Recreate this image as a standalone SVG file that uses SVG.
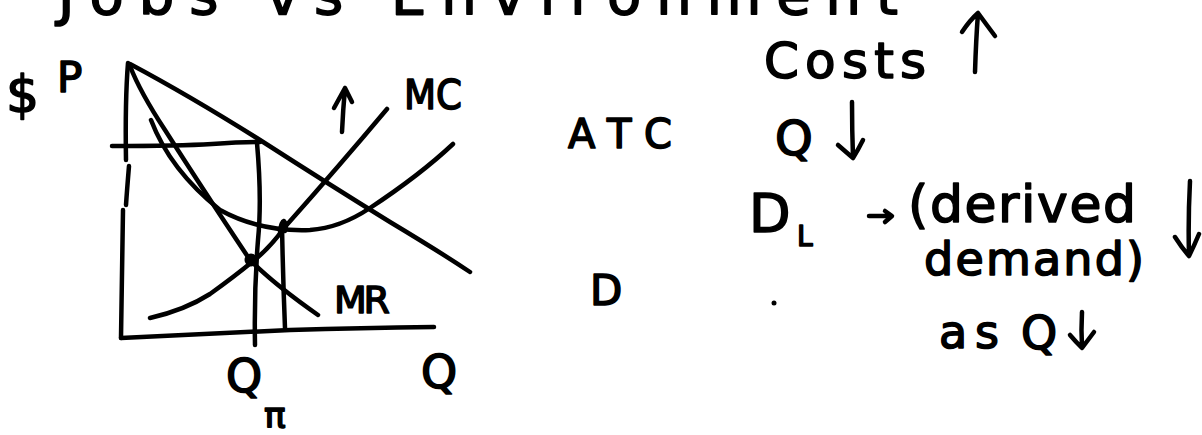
<svg xmlns="http://www.w3.org/2000/svg" width="1202" height="435" viewBox="0 0 1202 435">
  <style>
    .ink { fill: none; stroke: #000; stroke-width: 4.5; stroke-linecap: round; stroke-linejoin: round; }
    .hand { font-family: "DejaVu Sans", "Liberation Sans", sans-serif; fill: #000; stroke: #000; stroke-width: 1.6; stroke-linejoin: round; }
  </style>
  <rect width="1202" height="435" fill="#fff"/>

  <!-- heading, running off the top edge -->
  <text class="hand" x="58" y="14" font-size="56" textLength="840" lengthAdjust="spacing">Jobs vs Environment</text>

  <!-- axes and curves -->
  <g id="connectors">
    <!-- vertical price axis, with small gaps in the stroke -->
    <path class="ink" d="M128,63 Q125,100 126,160"/>
    <path class="ink" d="M129,166 Q127,190 126,205"/>
    <path class="ink" d="M123,210 Q122,270 121,338"/>
    <!-- quantity axis -->
    <path class="ink" d="M121,338 Q200,334 290,330 Q360,328 434,327"/>
    <!-- demand -->
    <path class="ink" d="M130,64 Q190,96 260,140 Q330,185 390,222 Q440,252 470,272"/>
    <!-- marginal revenue -->
    <path class="ink" d="M130,66 Q140,92 165,130 Q200,185 250,260 Q275,285 318,315"/>
    <!-- average total cost -->
    <path class="ink" d="M151,120 Q170,170 220,210 Q260,232 310,230 Q340,228 370,208 Q420,175 453,144"/>
    <!-- marginal cost -->
    <path class="ink" d="M150,318 Q185,310 210,294 Q235,276 252,262 Q270,248 284,228 Q340,165 387,109"/>
    <!-- shift arrow above MC -->
    <path class="ink" d="M342,132 Q343,110 345,88 M334,108 L345,88 L352,102"/>
    <!-- price level and quantity drop lines -->
    <path class="ink" d="M112,146 Q180,146 212,144 Q240,142 260,142"/>
    <path class="ink" d="M257,143 Q262,200 258,240 Q254,290 255,345"/>
    <path class="ink" d="M282,226 Q283,280 285,328"/>
  </g>

  <!-- points on the curves -->
  <g id="equilibrium">
    <circle cx="251" cy="260" r="6.5" fill="#000"/>
  </g>
  <g id="atc-min">
    <path class="ink" d="M280,232 Q281,222 284,221 Q287,224 285,231"/>
  </g>

  <!-- axis and curve labels -->
  <g id="label-price">
    <text class="hand" x="6" y="112" font-size="52">$</text>
    <text class="hand" x="57" y="92" font-size="42">P</text>
  </g>
  <g id="label-mc"><text class="hand" x="404" y="109" font-size="40" textLength="58" lengthAdjust="spacingAndGlyphs">MC</text></g>
  <g id="label-atc"><text class="hand" x="568" y="148" font-size="40" textLength="104" lengthAdjust="spacing">ATC</text></g>
  <g id="label-d"><text class="hand" x="590" y="305" font-size="42">D</text></g>
  <g id="label-mr"><text class="hand" x="334" y="313" font-size="38" textLength="56" lengthAdjust="spacing">MR</text></g>
  <g id="label-q"><text class="hand" x="421" y="388" font-size="46">Q</text></g>
  <g id="label-qpi">
    <text class="hand" x="226" y="392" font-size="46">Q</text>
    <text class="hand" x="264" y="428" font-size="36">π</text>
  </g>

  <!-- notes to the right -->
  <g id="note-costs">
    <text class="hand" x="764" y="78" font-size="50" textLength="162" lengthAdjust="spacing">Costs</text>
    <path class="ink" d="M975,72 Q976,40 978,13 M962,32 Q970,20 978,13 Q986,24 995,36"/>
  </g>
  <g id="note-q">
    <text class="hand" x="775" y="155" font-size="48">Q</text>
    <path class="ink" d="M852,102 Q852,130 853,157 M838,145 Q846,152 853,158 Q858,150 863,140"/>
  </g>
  <g id="note-dl">
    <text class="hand" x="749" y="232" font-size="54">D</text>
    <text class="hand" x="797" y="246" font-size="28">L</text>
    <path class="ink" d="M869,216 L891,216 M885,211 L892,216 L885,222"/>
  </g>
  <g id="note-derived">
    <text class="hand" x="908" y="222" font-size="52" textLength="228" lengthAdjust="spacing">(derived</text>
    <text class="hand" x="924" y="275" font-size="46" textLength="220" lengthAdjust="spacing">demand)</text>
    <path class="ink" d="M1190,181 Q1188,220 1189,255 M1175,237 Q1182,248 1189,256 Q1194,246 1199,234"/>
  </g>
  <g id="note-dot"><circle cx="774" cy="303" r="2.5" fill="#000"/></g>
  <g id="note-as">
    <text class="hand" x="939" y="348" font-size="46" textLength="60" lengthAdjust="spacing">as</text>
    <text class="hand" x="1021" y="349" font-size="46">Q</text>
    <path class="ink" d="M1082,312 Q1081,330 1082,347 M1070,335 Q1076,342 1082,348 Q1088,340 1094,332"/>
  </g>
</svg>
